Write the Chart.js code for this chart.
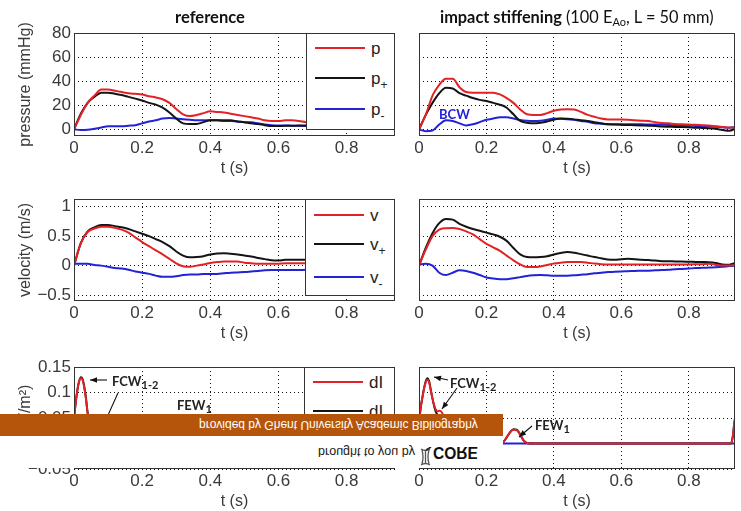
<!DOCTYPE html>
<html><head><meta charset="utf-8">
<script src="https://cdn.jsdelivr.net/npm/chart.js@4.4.1/dist/chart.umd.min.js"></script>
<style>
html,body{margin:0;padding:0;background:#fff}
body{position:relative;width:741px;height:511px;overflow:hidden;font-family:"Liberation Sans",Arial,sans-serif;color:#222}
canvas{position:absolute}
.leg{position:absolute;background:#fff;border:1px solid #333;box-sizing:border-box;z-index:3}
.leg .ln{position:absolute;height:2px}
.leg .lt{position:absolute;font-size:17px;line-height:20px;color:#222;white-space:nowrap}
.leg sub{font-size:12px;vertical-align:-5px;line-height:0}
.ann{position:absolute;font-family:Lato,"Open Sans",sans-serif;font-weight:bold;font-size:13px;color:#222;white-space:nowrap;line-height:1;z-index:2;transform:translateY(-50%)}
.ann sub{font-size:11px;vertical-align:-3px;line-height:0}
.ttl{position:absolute;font-family:Lato,"Open Sans",sans-serif;font-size:15px;color:#111;white-space:nowrap;line-height:1;transform:translateY(-50%)}
.ttl sub{font-size:11px;vertical-align:-3px;line-height:0}
#banner{position:absolute;left:0;top:414px;width:503px;height:22px;background:#b4550b;z-index:10}
#wbox{position:absolute;left:0;top:436px;width:503px;height:32px;background:#fff;z-index:10}
.flip{position:absolute;white-space:nowrap;line-height:1;transform-origin:0 50%}
</style></head><body>
<script>
// ---------------- data ----------------
const t = [0,0.02,0.04,0.06,0.08,0.1,0.12,0.14,0.16,0.18,0.2,0.22,0.24,0.26,0.28,0.3,0.32,0.34,0.36,0.38,0.4,0.42,0.44,0.46,0.48,0.5,0.52,0.54,0.56,0.58,0.6,0.62,0.64,0.66,0.68,0.7,0.72,0.74,0.76,0.78,0.8,0.82,0.84,0.86,0.88,0.9,0.92,0.94];

// pressure, reference
const pRef      = [0,12,22,28,33,33,32,31,30,29.5,29,27.5,26.5,25,22,17,12.5,11,12,13.5,15,14.5,14,13,12,11,10,9,7.5,7,7,7.5,7.5,7,6,5.5,5,5,4.5,4.5,4,4,3.5,3.5,3,3,2.5,2];
const pPlusRef  = [0,13,22,27,30.5,30.5,29.5,28.5,27,25.5,24,22,20.5,18,14,9,5,4.5,4.5,6,7.5,7.5,7.5,7.5,6.5,6,5,4.5,3.5,2.8,2.8,3,3,3.2,3.2,3,3,2.8,2.5,2.5,2.2,2,2,1.8,1.5,1.5,1.2,1];
const pMinusRef = [0,-0.5,-0.3,0.5,1.5,2.5,2.5,2.5,3,3.5,5,6.5,7.5,9,9.5,9,8.5,8,7.5,7.5,7.5,7.5,7,7,6.5,6,6,5,4,3.5,3.3,3.3,3,3,2.8,2.8,2.5,2.5,2.5,2.3,2.2,2,2,2,1.8,1.5,1.5,1.5];
// pressure, impact stiffening
const pImp      = [0,12,28,37,42,42,35,31,30.5,30.5,30.5,30.5,29,26,22,16.5,12.5,12,12,13.5,15.5,16.5,16.7,16.5,14.5,12,10.5,9,8.3,8.3,8.3,8,7.5,7.2,7,6,5.3,5,4.5,4.2,4,3.8,3.5,3.2,2.5,2,1.5,1.5];
const pPlusImp  = [0,12,22,30,34.5,34,30,28,26,24.5,23.5,22,20.5,18,12.5,7,5.5,5,5.5,6.5,8,9,8.8,8.3,7.5,7,6,5,4.2,4,3.8,3.6,3.5,3.3,3,2.8,2.3,2.2,2,2,1.8,1.4,1.2,1,0.5,-0.5,-1.2,1];
const pMinusImp = [0,-1.5,-1,4,7.5,7,5,3.3,4.2,6,8,9,10,10,9,7.8,7.2,7,7.2,8,9,8.8,8.3,8,7,6.3,5,4.7,4.3,4.2,4.2,4.2,4.2,4.2,4,4,3.8,3.6,3.3,3.2,3,2.9,2.8,2.5,2.2,1.8,1.4,2];
// velocity, reference
const vRef      = [0,0.38,0.57,0.63,0.66,0.66,0.64,0.61,0.56,0.48,0.40,0.33,0.26,0.19,0.115,0.04,-0.01,-0.02,0,0.02,0.045,0.06,0.07,0.07,0.07,0.05,0.04,0.03,0.03,0.03,0.03,0.04,0.04,0.04,0.04,0.04,0.035,0.03,0.03,0.03,0.025,0.02,0.02,0.02,0.015,0.01,0.01,0.01];
const vPlusRef  = [0,0.38,0.58,0.65,0.69,0.69,0.67,0.65,0.62,0.58,0.54,0.50,0.45,0.40,0.33,0.24,0.17,0.14,0.145,0.16,0.19,0.205,0.21,0.2,0.19,0.17,0.155,0.13,0.11,0.09,0.085,0.1,0.1,0.1,0.1,0.1,0.1,0.095,0.09,0.09,0.085,0.08,0.08,0.075,0.07,0.07,0.065,0.06];
const vMinusRef = [0.03,0.03,0.03,0.01,0,-0.02,-0.04,-0.05,-0.07,-0.1,-0.12,-0.14,-0.17,-0.19,-0.19,-0.18,-0.16,-0.15,-0.15,-0.14,-0.14,-0.14,-0.13,-0.12,-0.115,-0.11,-0.1,-0.09,-0.08,-0.075,-0.075,-0.075,-0.075,-0.075,-0.07,-0.07,-0.07,-0.07,-0.065,-0.065,-0.06,-0.06,-0.06,-0.055,-0.055,-0.05,-0.05,-0.05];
// velocity, impact stiffening
const vImp      = [0,0.27,0.5,0.61,0.635,0.64,0.62,0.58,0.53,0.45,0.37,0.31,0.25,0.17,0.09,0.02,-0.025,-0.025,-0.015,0.01,0.035,0.05,0.06,0.06,0.06,0.05,0.035,0.025,0.02,0.02,0.02,0.02,0.02,0.02,0.02,0.02,0.02,0.02,0.02,0.02,0.02,0.022,0.025,0.03,0.015,0,0,0.02];
const vPlusImp  = [0,0.3,0.55,0.72,0.79,0.78,0.71,0.66,0.62,0.59,0.56,0.53,0.49,0.42,0.3,0.19,0.145,0.14,0.145,0.16,0.19,0.215,0.23,0.22,0.195,0.17,0.145,0.125,0.105,0.1,0.11,0.115,0.11,0.1,0.095,0.085,0.075,0.075,0.07,0.07,0.065,0.063,0.06,0.058,0.045,0.02,0.015,0.05];
const vMinusImp = [0.02,0.03,0,-0.12,-0.16,-0.12,-0.08,-0.09,-0.12,-0.16,-0.2,-0.22,-0.23,-0.23,-0.215,-0.195,-0.175,-0.165,-0.16,-0.165,-0.17,-0.17,-0.17,-0.165,-0.155,-0.145,-0.13,-0.12,-0.11,-0.105,-0.1,-0.095,-0.09,-0.088,-0.085,-0.08,-0.075,-0.07,-0.062,-0.057,-0.05,-0.042,-0.038,-0.033,-0.028,-0.02,-0.008,0];

// wave intensity (finer time grid)
const tI = [0,0.005,0.01,0.015,0.02,0.025,0.03,0.035,0.04,0.045,0.05,0.055,0.06,0.065,0.07,0.075,0.08,0.09,0.1,0.12,0.15,0.2,0.24,0.25,0.26,0.27,0.28,0.29,0.3,0.31,0.32,0.34,0.4,0.5,0.6,0.7,0.8,0.9,0.92,0.925,0.93,0.935,0.94];
const dIRef      = [0.05,0.08,0.105,0.122,0.128,0.125,0.11,0.088,0.06,0.047,0.042,0.04,0.037,0.032,0.026,0.021,0.016,0.009,0.005,0.002,0,0,0,0.002,0.006,0.012,0.018,0.022,0.022,0.016,0.008,0.002,0,0,0,0,0,0,0,0.004,0.012,0.028,0.045];
const dIPlusRef  = [0.05,0.08,0.105,0.122,0.13,0.127,0.112,0.09,0.06,0.045,0.038,0.034,0.03,0.027,0.024,0.02,0.016,0.009,0.005,0.002,0,0,0,0.002,0.006,0.012,0.018,0.022,0.022,0.016,0.008,0.002,0,0,0,0,0,0,0,0.004,0.012,0.028,0.045];
const dIMinusRef = [0,0,0,0,0,0,0,-0.001,-0.002,-0.003,-0.004,-0.004,-0.004,-0.004,-0.003,-0.003,-0.002,-0.002,-0.001,-0.001,0,0,0,0,0,0,0,0,0,0,0,0,0,0,0,0,0,0,0,0,0,0,0];
const dIImp      = [0.04,0.07,0.09,0.108,0.12,0.125,0.12,0.104,0.088,0.075,0.066,0.063,0.064,0.063,0.058,0.045,0.03,0.012,0.004,0.001,0,0,0,0.003,0.012,0.022,0.027,0.026,0.017,0.006,0.001,0,0,0,0,0,0,0,0,0,0.012,0.04,0.06];
const dIPlusImp  = [0.04,0.07,0.09,0.108,0.122,0.128,0.122,0.105,0.088,0.073,0.062,0.056,0.05,0.042,0.033,0.025,0.017,0.008,0.003,0.001,0,0,0,0.003,0.012,0.022,0.028,0.027,0.018,0.006,0.001,0,0,0,0,0,0,0,0,0,0.012,0.04,0.06];
const dIMinusImp = [0,0,0,0,0,0,-0.001,-0.002,-0.004,-0.006,-0.008,-0.009,-0.01,-0.01,-0.009,-0.007,-0.005,-0.003,-0.002,-0.001,0,0,0,0,0,0,0,0,0,0,0,0,0,0,0,0,0,0,0,0,0,0,0];

// ticks
const xTicks = [0,0.2,0.4,0.6,0.8];
const xTickLabels = ['0','0.2','0.4','0.6','0.8'];
const pTicks = [0,20,40,60,80];
const pTickLabels = ['0','20','40','60','80'];
const vTicks = [-0.5,0,0.5,1];
const vTickLabels = ['\u22120.5','0','0.5','1'];
const dITicks = [-0.05,0,0.05,0.1,0.15];
const dITickLabels = ['\u22120.05','0','0.05','0.1','0.15'];

[pRef,pPlusRef,pMinusRef,pImp,pPlusImp,pMinusImp,vRef,vPlusRef,vMinusRef,vImp,vPlusImp,vMinusImp].forEach((a,i)=>{ if(a.length!==t.length) throw new Error('len mismatch series '+i+': '+a.length); });
[dIRef,dIPlusRef,dIMinusRef,dIImp,dIPlusImp,dIMinusImp].forEach((a,i)=>{ if(a.length!==tI.length) throw new Error('len mismatch dI '+i+': '+a.length); });

// ---------------- drawing ----------------
const RED = 'rgb(226,34,38)', BLACK = '#141414', BLUE = 'rgb(34,34,214)';
Chart.defaults.font.family = "'Liberation Sans', Arial, sans-serif";
Chart.defaults.color = '#3a3a3a';

const framePlugin = {
  id: 'frame',
  afterDatasetsDraw(chart, args, opts) {
    const {ctx, chartArea: a, scales: {x, y}} = chart;
    ctx.save();
    ctx.strokeStyle = '#111'; ctx.fillStyle = '#111'; ctx.lineWidth = 1.1;
    (opts.arrows || []).forEach(ar => {
      const x1 = x.getPixelForValue(ar[0]), y1 = y.getPixelForValue(ar[1]);
      const x2 = x.getPixelForValue(ar[2]), y2 = y.getPixelForValue(ar[3]);
      ctx.beginPath(); ctx.moveTo(x1, y1); ctx.lineTo(x2, y2); ctx.stroke();
      const ang = Math.atan2(y2 - y1, x2 - x1), L = 7, W = 2.8;
      ctx.beginPath(); ctx.moveTo(x2, y2);
      ctx.lineTo(x2 - L*Math.cos(ang) + W*Math.sin(ang), y2 - L*Math.sin(ang) - W*Math.cos(ang));
      ctx.lineTo(x2 - L*Math.cos(ang) - W*Math.sin(ang), y2 - L*Math.sin(ang) + W*Math.cos(ang));
      ctx.closePath(); ctx.fill();
    });
    ctx.strokeStyle = '#333'; ctx.lineWidth = 1;
    ctx.strokeRect(Math.round(a.left) + 0.5, Math.round(a.top) + 0.5, Math.round(a.width) - 1, Math.round(a.height) - 1);
    ctx.restore();
  }
};

function panel(p) {
  const c = document.createElement('canvas');
  c.width = p.cw; c.height = p.ch;
  c.style.left = p.cx + 'px'; c.style.top = p.cy + 'px';
  document.body.appendChild(c);
  const cols = [RED, BLACK, BLUE];
  new Chart(c, {
    type: 'line',
    data: { datasets: p.series.map((s, k) => ({
      data: p.t.map((tt, i) => ({x: tt, y: s[i]})),
      borderColor: cols[k], borderWidth: 2, pointRadius: 0, fill: false,
      cubicInterpolationMode: 'monotone'
    })) },
    options: {
      responsive: false, animation: false, devicePixelRatio: 1, events: [],
      layout: { padding: { top: 14, right: 6, left: 0, bottom: 0 } },
      plugins: { legend: { display: false }, tooltip: { enabled: false }, frame: { arrows: p.arrows || [] } },
      scales: {
        x: {
          type: 'linear', min: 0, max: p.xMax,
          afterBuildTicks: s => { s.ticks = xTicks.map(v => ({value: v})); },
          afterFit: s => { s.height = 45; },
          ticks: { padding: 2, color: '#3a3a3a', font: {size: 17}, maxRotation: 0, callback: (v, i) => xTickLabels[i] },
          grid: { color: '#111', lineWidth: 1, drawTicks: false },
          border: { display: false, dash: [1, 3] },
          title: { display: true, text: 't (s)', color: '#3a3a3a', font: {size: 16}, padding: {top: 0, bottom: 3} }
        },
        y: {
          type: 'linear', min: p.yMin, max: p.yMax,
          afterBuildTicks: s => { s.ticks = p.yTicks.map(v => ({value: v})); },
          afterFit: s => { s.width = p.yW; },
          ticks: { display: !!p.yLabels, padding: 3, color: '#3a3a3a', font: {size: 17}, callback: (v, i) => p.yLabels ? p.yLabels[i] : '' },
          grid: { color: '#111', lineWidth: 1, drawTicks: false },
          border: { display: false, dash: [1, 3] },
          title: { display: !!p.yTitle, text: p.yTitle || '', color: '#3a3a3a', font: {size: 16}, padding: {top: 16, bottom: 0} }
        }
      }
    },
    plugins: [framePlugin]
  });
}

// left column (reference)
panel({cx:0, cy:19, cw:401, ch:162, yW:74, t, xMax:0.942, yMin:-5.5, yMax:80, yTicks:pTicks, yLabels:pTickLabels, yTitle:'pressure (mmHg)', series:[pRef,pPlusRef,pMinusRef]});
panel({cx:0, cy:185, cw:401, ch:161, yW:74, t, xMax:0.942, yMin:-0.6, yMax:1.13, yTicks:vTicks, yLabels:vTickLabels, yTitle:'velocity (m/s)', series:[vRef,vPlusRef,vMinusRef]});
panel({cx:0, cy:353, cw:401, ch:161, yW:74, t:tI, xMax:0.942, yMin:-0.05, yMax:0.15, yTicks:dITicks, yLabels:dITickLabels, yTitle:'dI (W/m\u00B2)', series:[dIRef,dIPlusRef,dIMinusRef],
  arrows:[[0.0968,0.1245,0.047,0.1245],[0.129,0.099,0.088,0.038]]});
// right column (impact stiffening)
panel({cx:400, cy:19, cw:341, ch:162, yW:19, t, xMax:0.937, yMin:-5.5, yMax:80, yTicks:pTicks, series:[pImp,pPlusImp,pMinusImp]});
panel({cx:400, cy:185, cw:341, ch:161, yW:19, t, xMax:0.937, yMin:-0.6, yMax:1.13, yTicks:vTicks, series:[vImp,vPlusImp,vMinusImp]});
panel({cx:400, cy:353, cw:341, ch:161, yW:19, t:tI, xMax:0.937, yMin:-0.05, yMax:0.15, yTicks:dITicks, series:[dIImp,dIPlusImp,dIMinusImp],
  arrows:[[0.086,0.1245,0.0445,0.1304],[0.1127,0.1088,0.0682,0.0676],[0.335,0.0343,0.2966,0.0127]]});

// ---------------- html overlays ----------------
function el(tag, cls, html, style) {
  const e = document.createElement(tag);
  if (cls) e.className = cls;
  e.innerHTML = html;
  Object.assign(e.style, style || {});
  document.body.appendChild(e);
  return e;
}
function legend(left, top, w, h, entries) {
  const box = el('div', 'leg', '', {left: left+'px', top: top+'px', width: w+'px', height: h+'px'});
  entries.forEach(en => {
    const ln = document.createElement('div'); ln.className = 'ln';
    Object.assign(ln.style, {left: '8px', width: '50px', top: (en.y - top - 2) + 'px', background: en.c});
    box.appendChild(ln);
    const tx = document.createElement('span'); tx.className = 'lt';
    tx.innerHTML = en.l;
    Object.assign(tx.style, {left: '64px', top: (en.y - top - 10) + 'px'});
    box.appendChild(tx);
  });
}
legend(306, 33, 89, 97, [{y:48,c:RED,l:'p'},{y:78,c:BLACK,l:'p<sub>+</sub>'},{y:109,c:BLUE,l:'p<sub>-</sub>'}]);
legend(305, 199, 90, 97, [{y:215,c:RED,l:'v'},{y:244,c:BLACK,l:'v<sub>+</sub>'},{y:277,c:BLUE,l:'v<sub>-</sub>'}]);
legend(304, 367, 91, 102, [{y:382,c:RED,l:'dI'},{y:411,c:BLACK,l:'dI<sub>+</sub>'},{y:441,c:BLUE,l:'dI<sub>-</sub>'}]);

// titles
const t1 = el('div', 'ttl', '<b>reference</b>', {left: '175px', top: '17px'});
const t2 = el('div', 'ttl', '<b>impact stiffening</b> (100 E<sub>Ao</sub>, L = 50 mm)', {left: '440px', top: '17px'});

// annotations
el('div', 'ann', 'FCW<sub>1-2</sub>', {left: '112px', top: '381px'});
el('div', 'ann', 'FEW<sub>1</sub>', {left: '177px', top: '405px'});
el('div', 'ann', 'FCW<sub>1-2</sub>', {left: '450px', top: '383px'});
el('div', 'ann', 'FEW<sub>1</sub>', {left: '535px', top: '425px'});
el('div', 'ann', 'BCW', {left: '439px', top: '114px', color: BLUE});

// repository banner (mirrored)
const bn = el('div', '', '', {}); bn.id = 'banner';
const wb = el('div', '', '', {}); wb.id = 'wbox';
const b1 = el('div', 'flip', 'provided by Ghent University Academic Bibliography', {left: '199px', top: '425px', color: '#fff', fontSize: '14px', zIndex: 11});
const b2 = el('div', 'flip', 'brought to you by', {left: '318px', top: '452px', color: '#222', fontSize: '13px', zIndex: 11});
const b3 = el('div', 'flip', '<b>CORE</b>', {left: '433px', top: '452px', color: '#111', fontSize: '18px', zIndex: 11});
el('div', '', '<svg width="13" height="20" viewBox="0 0 13 20"><path d="M2 2 Q6.5 5 11 2 M3 3 Q5 10 3 17 M10 3 Q8 10 10 17 M2 18 Q6.5 15 11 18 M6.5 3 L6.5 17" stroke="#555" stroke-width="1.3" fill="none"/><path d="M7 17 L12 20" stroke="#222" stroke-width="1.5"/></svg>', {position:'absolute', left:'419px', top:'443px', zIndex: 11, transform:'scaleY(-1)'});

function fitW(e, target, flip) {
  const w = e.getBoundingClientRect().width;
  const fs = parseFloat(getComputedStyle(e).fontSize);
  e.style.fontSize = (fs * target / w) + 'px';
  e.style.transform = 'translateY(-50%)' + (flip ? ' scaleY(-1)' : '');
}
fitW(t1, 70, false);
fitW(t2, 275, false);
fitW(b1, 279, true);
fitW(b2, 97, true);
fitW(b3, 45, true);
</script>
</body></html>
